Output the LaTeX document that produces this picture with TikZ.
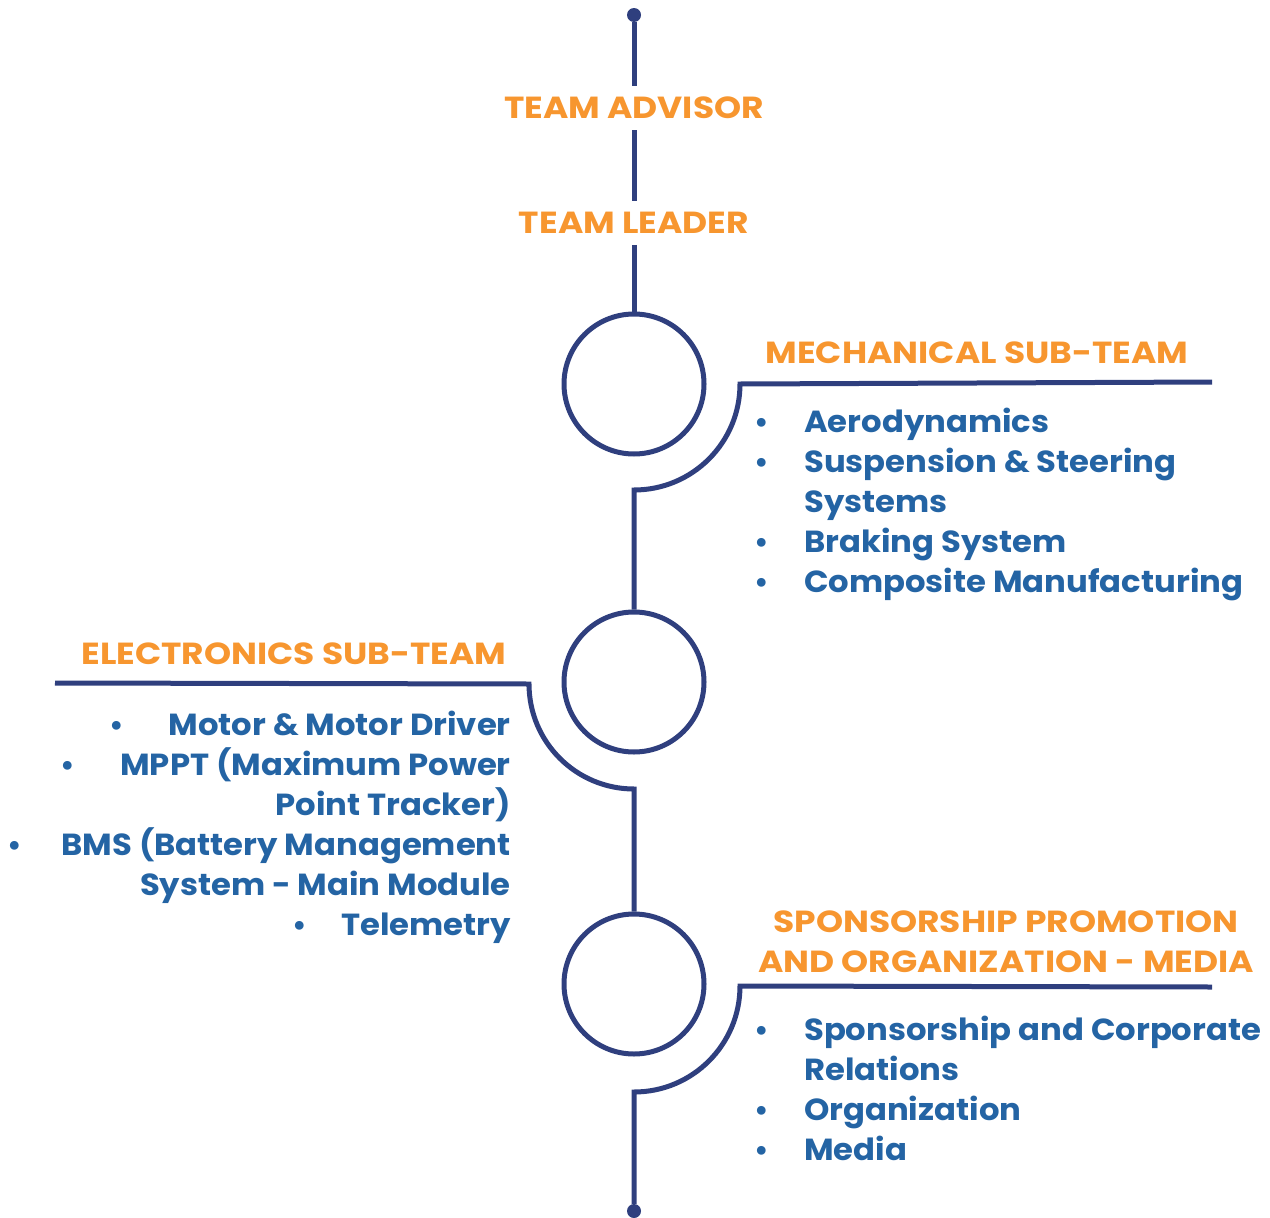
\documentclass[tikz,border=0pt]{standalone}
\usepackage{fontspec}
\setmainfont{Poppins}
\newfontfamily\headfont[FakeStretch=1.13]{Poppins}
\newfontfamily\itemfont[FakeStretch=1.058]{Poppins}
\definecolor{navy}{HTML}{2F3F7E}
\definecolor{orng}{HTML}{F7962F}
\definecolor{blu}{HTML}{2464A4}
\begin{document}
\begin{tikzpicture}[x=1pt,y=-1pt,
  ln/.style={draw=navy,line width=5pt},
  ring/.style={circle,draw=navy,line width=5pt,minimum size=140pt,inner sep=0pt},
  enddot/.style={circle,fill=navy,minimum size=14pt,inner sep=0pt},
  head/.style={text=orng,font=\headfont\fontsize{30.5}{36}\selectfont\bfseries,inner sep=0pt},
  rolebox/.style={text=orng,font=\headfont\fontsize{30.5}{36}\selectfont\bfseries,inner xsep=0pt,inner ysep=11pt},
  item/.style={text=blu,font=\itemfont\fontsize{30.5}{36}\selectfont\bfseries,inner sep=0pt},
  bul/.style={text=blu,font=\fontsize{29}{36}\selectfont\bfseries,inner sep=0pt,anchor=base}]
\useasboundingbox (0,0) rectangle (1270,1218);
% spine nodes
\node[enddot] (top) at (634,15) {};
\node[rolebox] (adv) at (634,108) {TEAM ADVISOR};
\node[rolebox] (lead) at (634,223) {TEAM LEADER};
\node[ring] (c1) at (634,384) {};
\node[ring] (c2) at (634,682) {};
\node[ring] (c3) at (634,984) {};
\node[enddot] (bot) at (634,1211) {};
% branch coordinates
\coordinate (m1r) at (1212,382);
\coordinate (m1c) at (740,384);
\coordinate (e1l) at (55,683);
\coordinate (e1c) at (529,684);
\coordinate (s1r) at (1212,987);
\coordinate (s1c) at (740,986);
% spine connectors
\draw[ln] (top) -- (adv);
\draw[ln] (adv) -- (lead);
\draw[ln] (lead) -- (c1.north);
\draw[ln] (m1r) -- (m1c) arc[start angle=0,end angle=-90,radius=106pt] -- (c2.north);
\draw[ln] (e1l) -- (e1c) arc[start angle=180,end angle=270,radius=105pt] -- (c3.north);
\draw[ln] (s1r) -- (s1c) arc[start angle=0,end angle=-90,radius=106pt] -- (bot);
% headings
\node[head,anchor=base] (mh) at (977,363) {MECHANICAL SUB-TEAM};
\node[head,anchor=base] (eh) at (294,664) {ELECTRONICS SUB-TEAM};
\node[head,anchor=base] (sh1) at (1006,932) {SPONSORSHIP PROMOTION};
\node[head,anchor=base] (sh2) at (1006,972) {AND ORGANIZATION - MEDIA};
% mechanical items
\node[bul] (mb1) at (762,432) {•};
\node[item,anchor=base west] (mi1) at (804,432) {Aerodynamics};
\node[bul] (mb2) at (762,472) {•};
\node[item,anchor=base west] (mi2) at (804,472) {Suspension \& Steering};
\node[item,anchor=base west] (mi2b) at (804,512) {Systems};
\node[bul] (mb3) at (762,552) {•};
\node[item,anchor=base west] (mi3) at (804,552) {Braking System};
\node[bul] (mb4) at (762,592) {•};
\node[item,anchor=base west] (mi4) at (804,592) {Composite Manufacturing};
% electronics items
\node[bul] (eb1) at (117,735) {•};
\node[item,anchor=base east] (ei1) at (511,735) {Motor \& Motor Driver};
\node[bul] (eb2) at (68,775) {•};
\node[item,anchor=base east] (ei2) at (511,775) {MPPT (Maximum Power};
\node[item,anchor=base east] (ei2b) at (511,815) {Point Tracker)};
\node[bul] (eb3) at (15,855) {•};
\node[item,anchor=base east] (ei3) at (511,855) {BMS (Battery Management};
\node[item,anchor=base east] (ei3b) at (511,895) {System - Main Module};
\node[bul] (eb4) at (300,935) {•};
\node[item,anchor=base east] (ei4) at (511,935) {Telemetry};
% sponsorship items
\node[bul] (sb1) at (762,1040) {•};
\node[item,anchor=base west] (si1) at (804,1040) {Sponsorship and Corporate};
\node[item,anchor=base west] (si1b) at (804,1080) {Relations};
\node[bul] (sb2) at (762,1120) {•};
\node[item,anchor=base west] (si2) at (804,1120) {Organization};
\node[bul] (sb3) at (762,1160) {•};
\node[item,anchor=base west] (si3) at (804,1160) {Media};
\end{tikzpicture}
\end{document}
